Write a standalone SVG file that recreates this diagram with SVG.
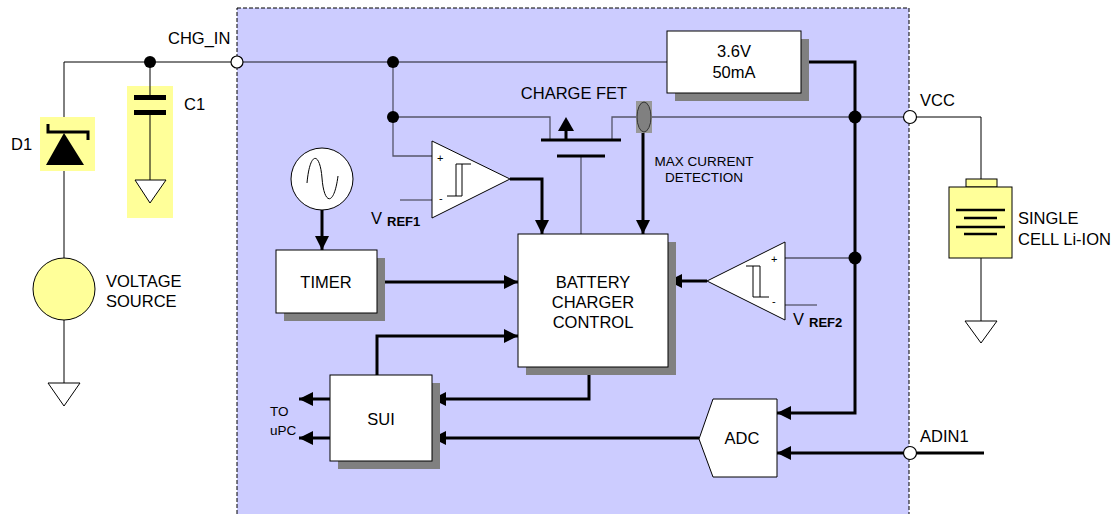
<svg xmlns="http://www.w3.org/2000/svg" width="1120" height="514" viewBox="0 0 1120 514">
<style>
text{font-family:"Liberation Sans",Arial,sans-serif;fill:#000}
.t16{font-size:16.5px}
.t13{font-size:13.5px}
.box{fill:#fff;stroke:#000;stroke-width:1}
.sh{fill:#808080}
.w{fill:none;stroke:#000;stroke-width:1}
.g{fill:none;stroke:#55556a;stroke-width:1.3}
.k{fill:none;stroke:#000;stroke-width:3}
.dot{fill:#000}
.port{fill:#fff;stroke:#000;stroke-width:1.2}
.gnd{fill:#fff;stroke:#000;stroke-width:1}
.hl{fill:#ffff99}
</style>
<defs>
<marker id="ar" markerUnits="userSpaceOnUse" markerWidth="14" markerHeight="14" refX="14" refY="7" orient="auto">
<path d="M0,0 L14,7 L0,14 z" fill="#000"/>
</marker>
</defs>
<rect width="1120" height="514" fill="#fff"/>
<g id="chip">
<rect x="237" y="8" width="672" height="520" fill="#ccccff" stroke="#000" stroke-width="1" stroke-dasharray="4,2"/>
</g>
<g id="connectors">
<path class="w" d="M64,62 H231"/>
<path class="g" d="M243,62 H667"/>
<path class="w" d="M64,62 V258"/>
<path class="w" d="M150,62 V97 M150,112 V180"/>
<path class="w" d="M64,320 V383"/>
<path class="g" d="M393,62 V156 H432"/>
<path class="g" d="M400,200 H432"/>
<path class="g" d="M393,117 H550 V140"/>
<path class="g" d="M612,140 V117 H636"/>
<path class="g" d="M651,117 H904"/>
<path class="w" d="M916,117 H981 V179"/>
<path class="w" d="M981,258 V321"/>
<path class="g" d="M581,156 V234"/>
<path class="k" d="M510,179 H542 V234" marker-end="url(#ar)"/>
<path class="k" d="M643,133 V234" marker-end="url(#ar)"/>
<path class="k" d="M322,210 V250" marker-end="url(#ar)"/>
<path class="k" d="M377,282 H518" marker-end="url(#ar)"/>
<path class="k" d="M377,375 V336 H518" marker-end="url(#ar)"/>
<path class="k" d="M589,367 V399 H432" marker-end="url(#ar)"/>
<path class="k" d="M699,438 H432" marker-end="url(#ar)"/>
<path class="k" d="M330,399 H299" marker-end="url(#ar)"/>
<path class="k" d="M330,438 H299" marker-end="url(#ar)"/>
<path class="k" d="M799,62 H855 V413 H777" marker-end="url(#ar)"/>
<path class="g" d="M785,258 H855"/>
<path class="g" d="M785,305 H817"/>
<path class="k" d="M707,281 H668" marker-end="url(#ar)"/>
<path class="k" d="M904,453 H777" marker-end="url(#ar)"/>
<path class="k" d="M916,453 H984"/>
<circle class="dot" cx="150" cy="62" r="6"/>
<circle class="dot" cx="393" cy="62" r="6"/>
<circle class="dot" cx="393" cy="117" r="6"/>
<circle class="dot" cx="855" cy="117" r="6.5"/>
<circle class="dot" cx="855" cy="258" r="6.5"/>
</g>
<g id="chg_in">
<circle class="port" cx="237" cy="62" r="6"/>
<text class="t16" x="168" y="44">CHG_IN</text>
</g>
<g id="d1">
<rect class="hl" x="40" y="117" width="55" height="54"/>
<path d="M46,165 L84,165 L64,133 z" fill="#000"/>
<path d="M48,124 V132 H88 V140" fill="none" stroke="#000" stroke-width="3"/>
<text class="t16" x="11" y="150">D1</text>
</g>
<g id="c1">
<rect class="hl" x="127" y="86" width="46" height="132"/>
<path class="w" d="M150,86 V97 M150,112 V180"/>
<rect x="134" y="95" width="32" height="5" fill="#000"/>
<rect x="134" y="110" width="32" height="5" fill="#000"/>
<path class="gnd" d="M135,180 L166,180 L150,203 z"/>
<text class="t16" x="184" y="110">C1</text>
</g>
<g id="voltage_source">
<circle cx="64" cy="289" r="31" fill="#ffff99" stroke="#000" stroke-width="1"/>
<path class="gnd" d="M48,383 L80,383 L64,406 z"/>
<text class="t16" x="106" y="287">VOLTAGE</text>
<text class="t16" x="106" y="307">SOURCE</text>
</g>
<g id="regulator">
<rect class="sh" x="675" y="39" width="134" height="62"/>
<rect class="box" x="667" y="31" width="134" height="62"/>
<text class="t16" x="734" y="57" text-anchor="middle">3.6V</text>
<text class="t16" x="734" y="78" text-anchor="middle">50mA</text>
</g>
<g id="charge_fet">
<path d="M541,140 H621 M557,156 H605" fill="none" stroke="#000" stroke-width="3"/>
<path d="M566,131 V140" stroke="#000" stroke-width="3"/>
<path d="M558,131 L574,131 L566,117 z" fill="#000"/>
<text class="t16" x="574" y="99" text-anchor="middle">CHARGE FET</text>
</g>
<g id="current_sense">
<rect x="636" y="101" width="16" height="32" fill="#999"/>
<ellipse cx="644" cy="117" rx="7" ry="15" fill="#808080" stroke="#333" stroke-width="1"/>
<text class="t13" x="704" y="166" text-anchor="middle">MAX CURRENT</text>
<text class="t13" x="704" y="182" text-anchor="middle">DETECTION</text>
</g>
<g id="comparator1">
<path d="M432,141 L432,218 L510,179 z" fill="#fff" stroke="#000" stroke-width="1"/>
<path d="M447,196 H462 V164 H471 M456,196 V164 H462" fill="none" stroke="#000" stroke-width="1"/>
<text x="437" y="162" style="font-size:11px">+</text>
<text x="439" y="202" style="font-size:11px">-</text>
<text class="t16" x="371" y="224">V</text>
<text x="387" y="226" style="font-size:13px;font-weight:bold">REF1</text>
</g>
<g id="oscillator">
<circle cx="322" cy="179" r="31" fill="#fff" stroke="#000" stroke-width="1"/>
<path d="M307,183 C310,150 320,152 322,178 C324,205 334,207 338,176" fill="none" stroke="#000" stroke-width="1"/>
</g>
<g id="timer">
<rect class="sh" x="284" y="258" width="101" height="63"/>
<rect class="box" x="276" y="250" width="101" height="63"/>
<text class="t16" x="326" y="288" text-anchor="middle">TIMER</text>
</g>
<g id="charger_control">
<rect class="sh" x="526" y="242" width="150" height="133"/>
<rect class="box" x="518" y="234" width="150" height="133"/>
<text class="t16" x="593" y="288" text-anchor="middle">BATTERY</text>
<text class="t16" x="593" y="308" text-anchor="middle">CHARGER</text>
<text class="t16" x="593" y="328" text-anchor="middle">CONTROL</text>
</g>
<g id="comparator2">
<path d="M785,242 L785,320 L707,281 z" fill="#fff" stroke="#000" stroke-width="1"/>
<path d="M746,266 H760 V297 H769 M753,266 V297 H760" fill="none" stroke="#000" stroke-width="1"/>
<text x="771" y="263" style="font-size:11px">+</text>
<text x="772" y="305" style="font-size:11px">-</text>
<text class="t16" x="793" y="325">V</text>
<text x="809" y="327" style="font-size:13px;font-weight:bold">REF2</text>
</g>
<g id="sui">
<rect class="sh" x="338" y="383" width="102" height="86"/>
<rect class="box" x="330" y="375" width="102" height="86"/>
<text class="t16" x="381" y="425" text-anchor="middle">SUI</text>
<text class="t13" x="270" y="416">TO</text>
<text class="t13" x="270" y="435">uPC</text>
</g>
<g id="adc">
<path d="M713,399 H777 V477 H713 L699,439 z" fill="#fff" stroke="#000" stroke-width="1"/>
<text class="t16" x="742" y="444" text-anchor="middle">ADC</text>
</g>
<g id="vcc">
<circle class="port" cx="910" cy="117" r="6.5"/>
<text class="t16" x="920" y="106">VCC</text>
</g>
<g id="adin1">
<circle class="port" cx="910" cy="453" r="6.5"/>
<text class="t16" x="920" y="442">ADIN1</text>
</g>
<g id="battery">
<rect x="966" y="179" width="31" height="8" fill="#ffff99" stroke="#000" stroke-width="1"/>
<rect x="949" y="187" width="63" height="71" fill="#ffff99" stroke="#000" stroke-width="1"/>
<path d="M956,210 H1005 M964,218 H997 M956,227 H1005 M964,234 H997" stroke="#000" stroke-width="2.5"/>
<path class="gnd" d="M965,321 L997,321 L981,343 z"/>
<text class="t16" x="1018" y="224">SINGLE</text>
<text class="t16" x="1018" y="245">CELL Li-ION</text>
</g>
</svg>
